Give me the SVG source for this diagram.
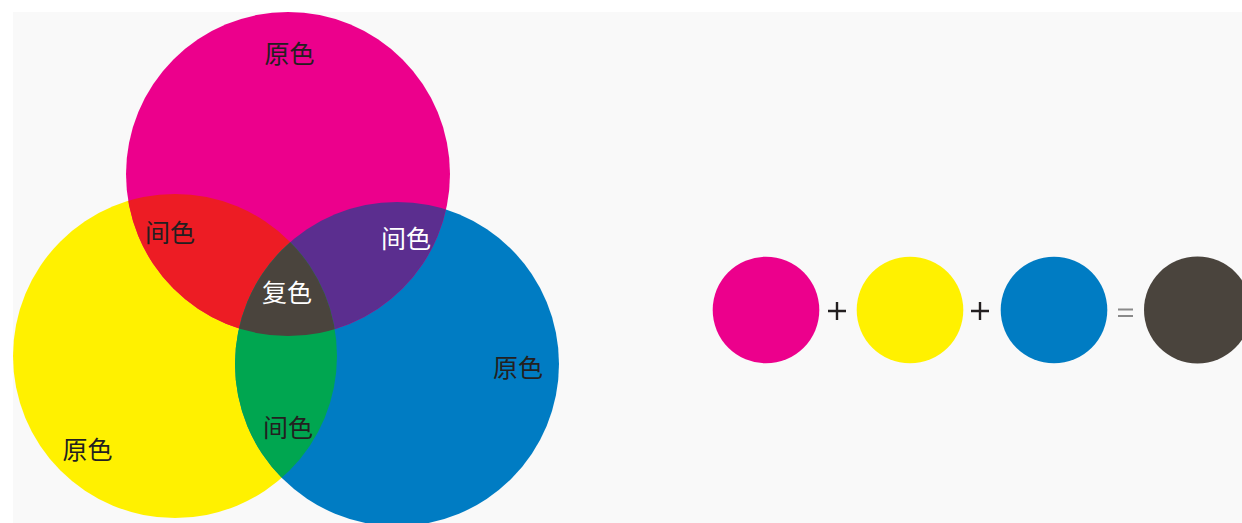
<svg xmlns="http://www.w3.org/2000/svg" width="1242" height="523" viewBox="0 0 1242 523">
<style>
.lbl{font-family:"Noto Sans CJK SC","Noto Sans",sans-serif;font-size:25px;text-anchor:middle}
.dk{fill:#231f20}
.wt{fill:#ffffff}
.m{fill:#EC008C}.y{fill:#FFF100}.b{fill:#007CC3}.r{fill:#ED1C24}.p{fill:#5B2E8F}.g{fill:#00A650}.k{fill:#4A443D}
.op{stroke:#231f20;stroke-width:2.4;fill:none}
</style>
<defs>
<clipPath id="page"><rect x="13" y="12" width="1229" height="511"/></clipPath>
<clipPath id="cm"><circle cx="288" cy="174" r="162"/></clipPath>
<clipPath id="cy"><circle cx="175" cy="356" r="162"/></clipPath>
<clipPath id="cb"><circle cx="397" cy="364" r="162"/></clipPath>
</defs>
<rect width="1242" height="523" fill="#ffffff"/>
<rect x="13" y="12" width="1229" height="511" fill="#f9f9f9"/>
<g clip-path="url(#page)">
<g id="venn">
<circle id="yellow" class="y" cx="175" cy="356" r="162"/>
<circle id="blue" class="b" cx="397" cy="364" r="162"/>
<circle id="magenta" class="m" cx="288" cy="174" r="162"/>
<g clip-path="url(#cm)"><circle id="red" class="r" cx="175" cy="356" r="162"/></g>
<g clip-path="url(#cm)"><circle id="purple" class="p" cx="397" cy="364" r="162"/></g>
<g clip-path="url(#cy)"><circle id="green" class="g" cx="397" cy="364" r="162"/></g>
<g clip-path="url(#cy)"><g clip-path="url(#cm)"><circle id="center" class="k" cx="397" cy="364" r="162"/></g></g>
</g>
<g id="equation">
<circle id="s-magenta" class="m" cx="766" cy="310" r="53.3"/>
<circle id="s-yellow" class="y" cx="910" cy="310" r="53.3"/>
<circle id="s-blue" class="b" cx="1054" cy="310" r="53.3"/>
<circle id="s-dark" class="k" cx="1197.5" cy="310" r="53.5"/>
<path class="op" d="M828 311H846M837 302V320"/>
<path class="op" d="M971 311H989M980 302V320"/>
<path d="M1118 309.5H1133M1118 316H1133" stroke="#8a8a8a" stroke-width="2" fill="none"/>
</g>
</g>
<g id="labels">
<text class="lbl dk" x="289.5" y="63">原色</text>
<text class="lbl dk" x="170" y="242">间色</text>
<text class="lbl wt" x="406" y="247.5">间色</text>
<text class="lbl wt" x="287" y="302">复色</text>
<text class="lbl dk" x="518" y="377">原色</text>
<text class="lbl dk" x="288" y="436.5">间色</text>
<text class="lbl dk" x="87.5" y="459">原色</text>
</g>
</svg>
